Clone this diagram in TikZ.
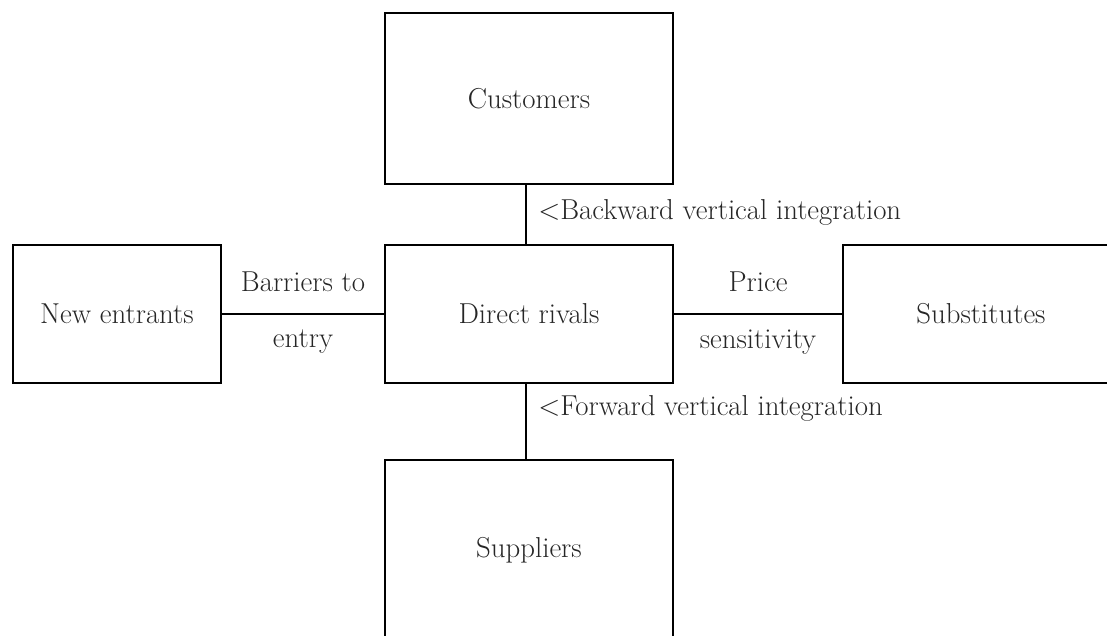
\documentclass[tikz,border=0pt]{standalone}
\usepackage{tikz}
\usetikzlibrary{calc}

\begin{document}
\begin{tikzpicture}[x=0.025cm,y=-0.025cm,
        force/.style={draw,line width=1.1pt,text=black!85,font=\fontsize{20.5}{24}\selectfont},
        tag/.style={text=black!85,font=\fontsize{20.5}{24}\selectfont,inner sep=0pt}]
            \useasboundingbox (0,0) rectangle (1107,636);

            % the five forces
            \node[force,minimum width=7.2cm,minimum height=3.44cm] (rivals) at (529,314) {Direct rivals};
            \node[force,minimum width=7.2cm,minimum height=4.28cm] (customers) at (529,98.5) {Customers};
            \node[force,minimum width=7.2cm,minimum height=4.5cm] (suppliers) at (529,550) {Suppliers};
            \node[force,minimum width=5.2cm,minimum height=3.44cm] (entrants) at (117,314) {New entrants};
            \node[force,minimum width=6.9cm,minimum height=3.44cm] (substitutes) at (981,314) {Substitutes};

            % links
            \draw[line width=1.1pt] ($(customers.south)+(-3,0)$) -- ($(rivals.north)+(-3,0)$);
            \draw[line width=1.1pt] ($(rivals.south)+(-3,0)$) -- ($(suppliers.north)+(-3,0)$);
            \draw[line width=1.1pt] (entrants.east) -- (rivals.west);
            \draw[line width=1.1pt] (rivals.east) -- (substitutes.west);

            \node[tag] (barriers) at ($(entrants.east)!0.5!(rivals.west)+(0,-32)$) {Barriers to};
            \node[tag] (entry) at ($(entrants.east)!0.5!(rivals.west)+(0,28)$) {entry};
            \node[tag] (price) at ($(rivals.east)!0.5!(substitutes.west)+(0,-32)$) {Price};
            \node[tag] (sensitivity) at ($(rivals.east)!0.5!(substitutes.west)+(0,28)$) {sensitivity};
            \node[tag,anchor=west] (backward) at (538,212) {<Backward vertical integration};
            \node[tag,anchor=west] (forward) at (538,408) {<Forward vertical integration};
        \end{tikzpicture}
\end{document}
